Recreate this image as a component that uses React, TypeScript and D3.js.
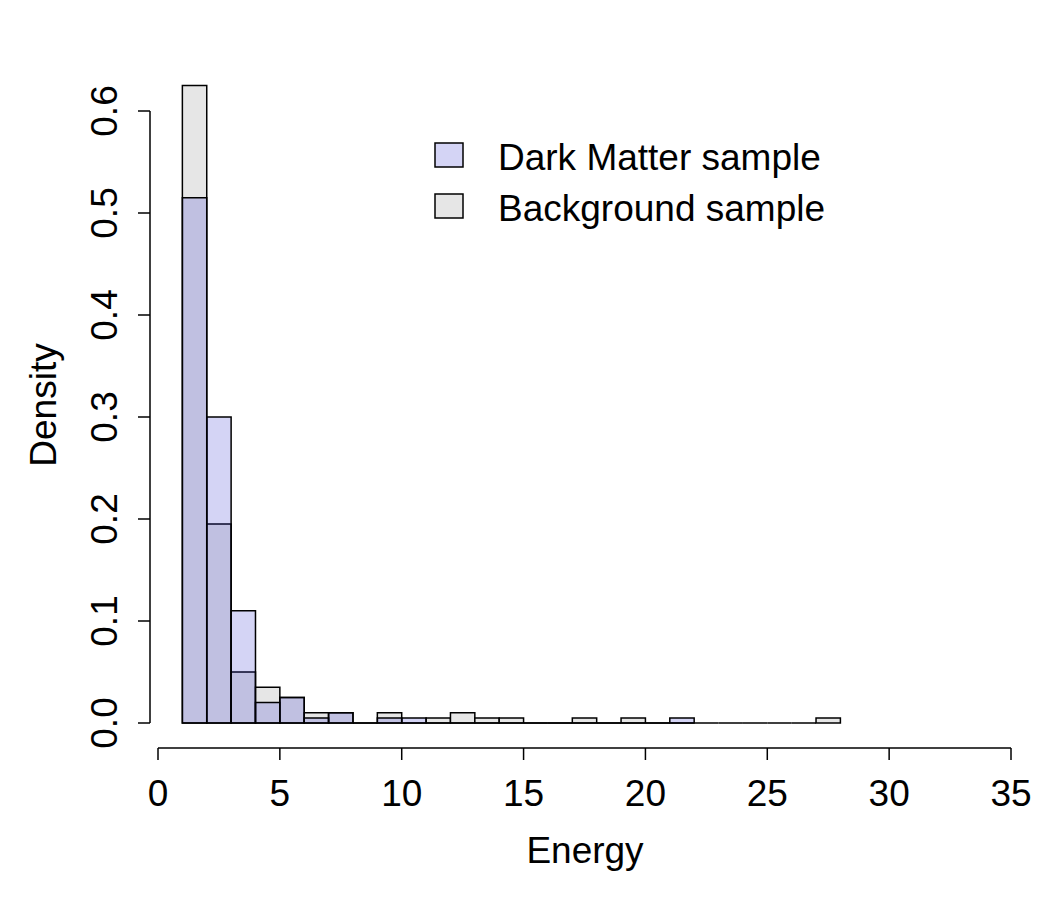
import React, { useEffect, useRef } from "react";
import * as d3 from "d3";

// histogram densities, one value per unit-wide bin starting at Energy = 1
const binStart = 1;
const darkMatterDensity = [
  0.515, 0.3, 0.11, 0.02, 0.025, 0.005, 0.01, 0, 0.005, 0.005,
  0, 0, 0, 0, 0, 0, 0, 0, 0, 0, 0.005
];
const backgroundDensity = [
  0.625, 0.195, 0.05, 0.035, 0.025, 0.01, 0.01, 0, 0.01, 0,
  0.005, 0.01, 0.005, 0.005, 0, 0, 0.005, 0, 0.005, 0,
  0, 0, 0, 0, 0, 0, 0.005
];
const xTicks = [0, 5, 10, 15, 20, 25, 30, 35];
const yTicks = [0, 0.1, 0.2, 0.3, 0.4, 0.5, 0.6];
const legendItems = [
  { label: "Dark Matter sample", fill: "rgba(40,40,205,0.2)" },
  { label: "Background sample", fill: "#e6e6e6" }
];

const App: React.FC = () => {
  const svgRef = useRef<SVGSVGElement>(null);

  useEffect(() => {
    if (!svgRef.current) return;
    document.body.style.margin = "0";

    const width = 1050;
    const height = 900;
    const font = "'Liberation Sans', Arial, Helvetica, sans-serif";

    const svg = d3.select(svgRef.current);
    svg.selectAll("*").remove();
    svg.attr("width", width).attr("height", height);

    const x = d3.scaleLinear().domain([0, 35]).range([158, 1011]);
    const y = d3.scaleLinear().domain([0, 0.6]).range([723, 111]);

    const barPath = (i: number, v: number) => {
      const p = d3.path();
      const x0 = x(binStart + i);
      const x1 = x(binStart + i + 1);
      p.moveTo(x0, y(0));
      p.lineTo(x0, y(v));
      p.lineTo(x1, y(v));
      p.lineTo(x1, y(0));
      p.closePath();
      return p.toString();
    };

    const drawHist = (values: number[], fill: string) => {
      svg.append("g")
        .selectAll("path")
        .data(values)
        .join("path")
        .attr("d", (d, i) => barPath(i, d))
        .attr("fill", fill)
        .attr("stroke", "#000")
        .attr("stroke-width", 1.5)
        .attr("stroke-linejoin", "miter");
    };

    drawHist(backgroundDensity, legendItems[1].fill);
    drawHist(darkMatterDensity, legendItems[0].fill);

    // x axis
    const xAxisY = 748;
    const xg = svg.append("g").attr("stroke", "#000").attr("stroke-width", 1.5);
    xg.append("line")
      .attr("x1", x(0)).attr("x2", x(35))
      .attr("y1", xAxisY).attr("y2", xAxisY);
    xg.selectAll("line.tick")
      .data(xTicks)
      .join("line")
      .attr("class", "tick")
      .attr("x1", d => x(d)).attr("x2", d => x(d))
      .attr("y1", xAxisY).attr("y2", xAxisY + 12);
    svg.append("g")
      .selectAll("text")
      .data(xTicks)
      .join("text")
      .attr("x", d => x(d))
      .attr("y", 806)
      .attr("text-anchor", "middle")
      .style("font-family", font)
      .style("font-size", "37px")
      .text(d => d);

    // y axis
    const yAxisX = 150;
    const yg = svg.append("g").attr("stroke", "#000").attr("stroke-width", 1.5);
    yg.append("line")
      .attr("x1", yAxisX).attr("x2", yAxisX)
      .attr("y1", y(0)).attr("y2", y(0.6));
    yg.selectAll("line.tick")
      .data(yTicks)
      .join("line")
      .attr("class", "tick")
      .attr("x1", yAxisX).attr("x2", yAxisX - 12)
      .attr("y1", d => y(d)).attr("y2", d => y(d));
    svg.append("g")
      .selectAll("text")
      .data(yTicks)
      .join("text")
      .attr("transform", d => `translate(117,${y(d)}) rotate(-90)`)
      .attr("text-anchor", "middle")
      .style("font-family", font)
      .style("font-size", "37px")
      .text(d => d3.format(".1f")(d));

    // axis titles
    svg.append("text")
      .attr("x", 585)
      .attr("y", 863)
      .attr("text-anchor", "middle")
      .style("font-family", font)
      .style("font-size", "37px")
      .text("Energy");
    svg.append("text")
      .attr("transform", "translate(56,405) rotate(-90)")
      .attr("text-anchor", "middle")
      .style("font-family", font)
      .style("font-size", "37px")
      .text("Density");

    // legend
    const legend = svg.append("g");
    legendItems.forEach((item, i) => {
      const top = 143 + i * 51;
      legend.append("rect")
        .attr("x", 435).attr("y", top)
        .attr("width", 28).attr("height", 24)
        .attr("fill", item.fill)
        .attr("stroke", "#000")
        .attr("stroke-width", 1.5);
      legend.append("text")
        .attr("x", 498)
        .attr("y", top + 27)
        .style("font-family", font)
        .style("font-size", "37px")
        .text(item.label);
    });
  }, []);

  return <svg ref={svgRef} style={{ display: "block", background: "#fff" }} />;
};

export default App;
